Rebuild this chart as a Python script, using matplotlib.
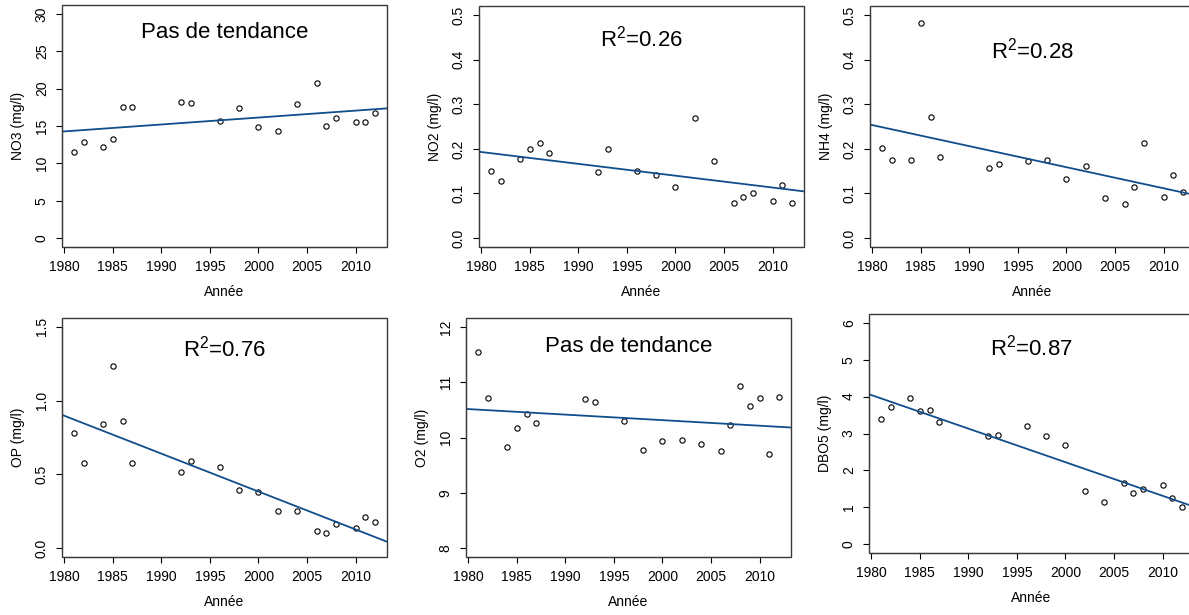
import numpy as np
import matplotlib.pyplot as plt
from matplotlib.patches import Rectangle
from matplotlib.ticker import FormatStrFormatter

plt.rcParams['font.family'] = ['Liberation Sans', 'DejaVu Sans']
plt.rcParams['mathtext.fontset'] = 'custom'
plt.rcParams['mathtext.rm'] = 'Liberation Sans'
plt.rcParams['mathtext.it'] = 'Liberation Sans'

# sampling years (O2 has one more year, 2009)
years = [1981, 1982, 1984, 1985, 1986, 1987, 1992, 1993, 1996, 1998,
         2000, 2002, 2004, 2006, 2007, 2008, 2010, 2011, 2012]
years_o2 = [1981, 1982, 1984, 1985, 1986, 1987, 1992, 1993, 1996, 1998,
            2000, 2002, 2004, 2006, 2007, 2008, 2009, 2010, 2011, 2012]

no3 = [11.5, 12.9, 12.2, 13.2, 17.6, 17.5, 18.2, 18.1, 15.7, 17.4,
       14.8, 14.3, 18.0, 20.8, 15.0, 16.1, 15.6, 15.6, 16.8]
no2 = [0.150, 0.129, 0.178, 0.199, 0.212, 0.190, 0.148, 0.199, 0.150, 0.141,
       0.114, 0.268, 0.172, 0.078, 0.093, 0.102, 0.083, 0.120, 0.078]
nh4 = [0.202, 0.175, 0.174, 0.482, 0.272, 0.182, 0.157, 0.166, 0.172, 0.174,
       0.132, 0.162, 0.090, 0.077, 0.114, 0.212, 0.093, 0.141, 0.104]
op = [0.780, 0.576, 0.843, 1.235, 0.861, 0.580, 0.517, 0.591, 0.551, 0.394,
      0.380, 0.254, 0.254, 0.117, 0.103, 0.166, 0.135, 0.214, 0.178]
o2 = [11.55, 10.72, 9.83, 10.17, 10.42, 10.26, 10.69, 10.65, 10.29, 9.77,
      9.93, 9.95, 9.89, 9.75, 10.23, 10.93, 10.57, 10.71, 9.70, 10.73]
dbo5 = [3.40, 3.71, 3.97, 3.61, 3.63, 3.31, 2.92, 2.97, 3.20, 2.93,
        2.68, 1.43, 1.13, 1.65, 1.38, 1.50, 1.61, 1.26, 1.02]

ylabels = ['NO3 (mg/l)', 'NO2 (mg/l)', 'NH4 (mg/l)',
           'OP (mg/l)', 'O2 (mg/l)', 'DBO5 (mg/l)']
ylims = [(0, 30), (0, 0.5), (0, 0.5), (0, 1.5), (8, 12), (0, 6)]
ysteps = [5, 0.1, 0.1, 0.5, 1, 1]
notes = ['Pas de tendance', r'R$^{2}$=0.26', r'R$^{2}$=0.28',
         r'R$^{2}$=0.76', 'Pas de tendance', r'R$^{2}$=0.87']
note_y = [27.5, 0.448, 0.42, 1.35, 11.65, 5.34]
xticks = [1980, 1985, 1990, 1995, 2000, 2005, 2010]

# plot boxes in pixels: left, top, bottom
boxes = [(62, 5, 247), (479, 6, 247), (870, 6, 247),
         (62, 318, 557), (466, 318, 557), (869, 314, 553)]
W, H = 1189, 615
BOXW = 325

series = [(years, no3), (years, no2), (years, nh4),
          (years, op), (years_o2, o2), (years, dbo5)]

fig = plt.figure(figsize=(W / 100, H / 100), dpi=100)

for i, (x, y) in enumerate(series):
    left, top, bottom = boxes[i]
    ax = fig.add_axes([left / W, (H - bottom) / H, BOXW / W, (bottom - top) / H])
    x = np.array(x, dtype=float)
    y = np.array(y, dtype=float)

    ax.plot(x, y, 'o', mfc='none', mec='black', ms=3.8, mew=0.8, clip_on=False)
    a, b = np.polyfit(x, y, 1)
    ax.axline((x.mean(), y.mean()), slope=a, color='#104E8B', lw=1.3)

    # R-style 4% range extension
    xpad = 0.04 * (x.max() - x.min())
    ax.set_xlim(x.min() - xpad, x.max() + xpad)
    lo, hi = ylims[i]
    ypad = 0.04 * (hi - lo)
    ax.set_ylim(lo - ypad, hi + ypad)

    yt = np.arange(lo, hi + ysteps[i] / 2, ysteps[i])
    ax.set_xticks(xticks)
    ax.set_yticks(yt)
    if ysteps[i] < 1:
        ax.yaxis.set_major_formatter(FormatStrFormatter('%.1f'))
    else:
        ax.yaxis.set_major_formatter(FormatStrFormatter('%d'))

    for s in ['top', 'right']:
        ax.spines[s].set_visible(False)
    ax.spines['bottom'].set_bounds(xticks[0], xticks[-1])
    ax.spines['left'].set_bounds(yt[0], yt[-1])
    for s in ['bottom', 'left']:
        ax.spines[s].set_color('black')
        ax.spines[s].set_linewidth(0.8)
    ax.add_patch(Rectangle((0, 0), 1, 1, transform=ax.transAxes, fill=False,
                           ec='#3a3a3a', lw=1.0, clip_on=False, zorder=3))

    ax.tick_params(direction='out', length=4.5, width=0.8, labelsize=10,
                   pad=5, color='black')
    ax.tick_params(axis='y', labelrotation=90)
    for lab in ax.get_yticklabels():
        lab.set_va('center')

    ax.set_xlabel('Année', fontsize=10, labelpad=8)
    ax.set_ylabel(ylabels[i], fontsize=10, labelpad=7)

    ax.text(np.mean(ax.get_xlim()), note_y[i], notes[i], ha='center',
            va='center', fontsize=16)

fig.savefig('out.png', dpi=100)
